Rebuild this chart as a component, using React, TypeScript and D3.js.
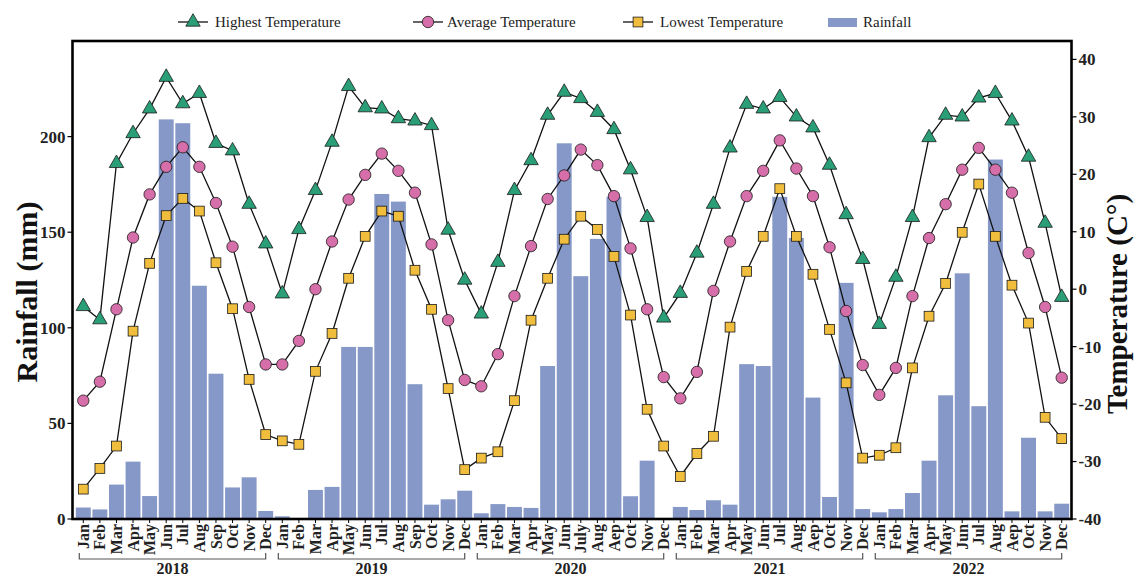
import React from "react";
import * as d3 from "d3";

const years = ["2018", "2019", "2020", "2021", "2022"];
const monthLabels2018 = ["Jan", "Feb", "Mar", "Apr", "May", "Jun", "Jul", "Aug", "Sep", "Oct", "Nov", "Dec"];
const monthLabels2019 = ["Jan", "Feb", "Mar", "Apr", "May", "Jun", "Jul", "Aug", "Sep", "Oct", "Nov", "Dec"];
const monthLabels2020 = ["Jan", "Feb", "Mar", "Apr", "May", "Jun", "July", "Aug", "Aep", "Oct", "Nov", "Dec"];
const monthLabels2021 = ["Jan", "Feb", "Mar", "Apr", "May", "Jun", "Jul", "Aug", "Aep", "Oct", "Nov", "Dec"];
const monthLabels2022 = ["Jan", "Feb", "Mar", "Apr", "May", "Jun", "Jul", "Aug", "Aep", "Oct", "Nov", "Dec"];
const monthLabels = [...monthLabels2018, ...monthLabels2019, ...monthLabels2020, ...monthLabels2021, ...monthLabels2022];

// Rainfall (mm)
const rainfall = [
  6, 5, 18, 30, 12, 209, 207, 122, 76, 16.5, 21.8, 4.2,
  1.4, 0, 15.2, 16.8, 90, 90, 170, 166, 70.5, 7.5, 10.3, 14.8,
  3, 7.8, 6.3, 5.8, 80, 196.5, 127, 146.5, 168.5, 11.9, 30.5, 0,
  6.3, 4.7, 9.8, 7.5, 81, 80, 168.5, 147, 63.5, 11.5, 123.5, 5.2,
  3.5, 5.2, 13.6, 30.5, 64.7, 128.5, 59, 188, 4, 42.5, 4, 8,
];

// Temperatures (°C)
const highTemp = [
  -3.0, -5.3, 21.9, 27.1, 31.4, 36.9, 32.3, 34.1, 25.4, 24.1, 14.8, 7.9,
  -0.8, 10.4, 17.2, 25.6, 35.3, 31.6, 31.4, 29.7, 29.3, 28.5, 10.3, 1.6,
  -4.3, 4.7, 17.2, 22.4, 30.3, 34.3, 33.2, 30.8, 27.8, 20.8, 12.5, -5.0,
  -0.7, 6.3, 14.8, 24.6, 32.2, 31.4, 33.4, 30.0, 28.1, 21.6, 13.0, 5.2,
  -6.1, 2.1, 12.5, 26.4, 30.3, 30.0, 33.3, 34.1, 29.3, 23.0, 11.5, -1.4,
];
const avgTemp = [
  -19.4, -16.1, -3.5, 9.0, 16.5, 21.3, 24.7, 21.3, 15.0, 7.4, -3.1, -13.1,
  -13.1, -9.0, 0.0, 8.3, 15.6, 19.9, 23.6, 20.6, 16.8, 7.8, -5.4, -15.8,
  -16.9, -11.3, -1.2, 7.5, 15.7, 19.8, 24.3, 21.6, 16.2, 7.1, -3.5, -15.3,
  -19.0, -14.4, -0.3, 8.3, 16.2, 20.6, 25.9, 21.0, 16.2, 7.3, -3.8, -13.2,
  -18.4, -13.7, -1.2, 8.9, 14.8, 20.8, 24.6, 20.8, 16.8, 6.3, -3.1, -15.4,
];
const lowTemp = [
  -34.8, -31.2, -27.3, -7.3, 4.5, 12.8, 15.8, 13.6, 4.6, -3.4, -15.7, -25.3,
  -26.4, -27.0, -14.3, -7.7, 1.9, 9.2, 13.6, 12.7, 3.3, -3.5, -17.3, -31.4,
  -29.4, -28.3, -19.4, -5.4, 1.9, 8.7, 12.7, 10.4, 5.7, -4.5, -20.9, -27.3,
  -32.6, -28.6, -25.6, -6.6, 3.1, 9.2, 17.5, 9.2, 2.6, -7.0, -16.3, -29.4,
  -28.9, -27.6, -13.7, -4.7, 1.0, 9.9, 18.3, 9.2, 0.7, -5.9, -22.3, -26.0,
];

const rainTicks = [0, 50, 100, 150, 200];
const tempTicks = [-40, -30, -20, -10, 0, 10, 20, 30, 40];

const W = 1134;
const H = 578;
const LEFT = 72.5;
const RIGHT = 1071.5;
const TOP = 41;
const BOTTOM = 519;

const FONT = "'Liberation Serif', 'Times New Roman', serif";
const BAR = "#8598c7";
const GREEN = "#2a9e76";
const PINK = "#d66eaa";
const GOLD = "#f0be3c";

export default function App() {
  const idx = d3.range(rainfall.length);
  const x = d3.scaleBand<number>().domain(idx).range([75, 1070]).paddingInner(0.1).paddingOuter(0.05);
  const cx = (i: number) => (x(i) as number) + x.bandwidth() / 2;
  const yL = d3.scaleLinear().domain([0, 250]).range([BOTTOM, TOP]);
  const yR = d3.scaleLinear().domain([-40, 43.2]).range([BOTTOM, TOP]);

  const line = d3.line<number>().x((_, i) => cx(i)).y((d) => yR(d));
  const tri = d3.symbol(d3.symbolTriangle, 90)();
  const sq = 9.8;

  const series = [
    { data: highTemp, kind: "tri", fill: GREEN },
    { data: avgTemp, kind: "circle", fill: PINK },
    { data: lowTemp, kind: "square", fill: GOLD },
  ];

  const marker = (kind: string, fill: string, px: number, py: number, key: any) => {
    if (kind === "tri")
      return <path key={key} d={tri as string} transform={`translate(${px},${py})`} fill={fill} stroke="#1a1a1a" strokeWidth={0.8} />;
    if (kind === "circle")
      return <circle key={key} cx={px} cy={py} r={5.7} fill={fill} stroke="#1a1a1a" strokeWidth={0.8} />;
    return <rect key={key} x={px - sq / 2} y={py - sq / 2} width={sq} height={sq} fill={fill} stroke="#1a1a1a" strokeWidth={0.8} />;
  };

  const legendY = 22;

  return (
    <svg width={W} height={H} style={{ position: "absolute", left: 0, top: 0, background: "#fff" }} fontFamily={FONT}>
      {/* bars */}
      {rainfall.map((v, i) => (
        <rect key={"b" + i} x={x(i)} y={yL(v)} width={x.bandwidth()} height={BOTTOM - yL(v)} fill={BAR} />
      ))}
      {/* lines */}
      {series.map((s, k) => (
        <path key={"l" + k} d={line(s.data) as string} fill="none" stroke="#111" strokeWidth={1.3} />
      ))}
      {series.map((s, k) => s.data.map((v, i) => marker(s.kind, s.fill, cx(i), yR(v), `m${k}-${i}`)))}

      {/* frame */}
      <rect x={LEFT} y={TOP} width={RIGHT - LEFT} height={BOTTOM - TOP} fill="none" stroke="#000" strokeWidth={2.6} />

      {/* left axis */}
      {rainTicks.map((t) => (
        <g key={"lt" + t}>
          <line x1={LEFT - 5} x2={LEFT} y1={yL(t)} y2={yL(t)} stroke="#000" strokeWidth={1.2} />
          <text x={LEFT - 7} y={yL(t)} dy="0.35em" textAnchor="end" fontSize={17} fontWeight="bold" fill="#222">{t}</text>
        </g>
      ))}
      {/* right axis */}
      {tempTicks.map((t) => (
        <g key={"rt" + t}>
          <line x1={RIGHT} x2={RIGHT + 5} y1={yR(t)} y2={yR(t)} stroke="#000" strokeWidth={1.2} />
          <text x={RIGHT + 7} y={yR(t)} dy="0.35em" textAnchor="start" fontSize={17} fontWeight="bold" fill="#222">{t}</text>
        </g>
      ))}
      {/* bottom ticks and month labels */}
      {idx.map((i) => (
        <g key={"mt" + i}>
          <line x1={cx(i)} x2={cx(i)} y1={BOTTOM} y2={BOTTOM + 4} stroke="#000" strokeWidth={1} />
          <text transform={`translate(${cx(i)},${BOTTOM + 5}) rotate(-90)`} dy="0.35em" textAnchor="end" fontSize={16} fontWeight="bold" fill="#222">
            {monthLabels[i]}
          </text>
        </g>
      ))}
      {/* year brackets */}
      {years.map((yr, k) => {
        const x0 = cx(k * 12) - 4;
        const x1 = cx(k * 12 + 11);
        return (
          <g key={"y" + yr}>
            <path d={`M${x0},553V559H${x1}V553`} fill="none" stroke="#555" strokeWidth={1.2} />
            <text x={(x0 + x1) / 2} y={574} textAnchor="middle" fontSize={16} fontWeight="bold" fill="#222">{yr}</text>
          </g>
        );
      })}

      {/* axis titles */}
      <text transform={`translate(37,292) rotate(-90)`} textAnchor="middle" fontSize={30} fontWeight="bold" fill="#111">Rainfall (mm)</text>
      <text transform={`translate(1127,304) rotate(-90)`} textAnchor="middle" fontSize={29} fontWeight="bold" fill="#111">Temperature (C°)</text>

      {/* legend */}
      <g>
        <line x1={178} x2={208} y1={legendY} y2={legendY} stroke="#111" strokeWidth={1.3} />
        {marker("tri", GREEN, 193, legendY, "lg1")}
        <text x={215} y={legendY} dy="0.33em" fontSize={15} fill="#222">Highest Temperature</text>
        <line x1={413} x2={443} y1={legendY} y2={legendY} stroke="#111" strokeWidth={1.3} />
        {marker("circle", PINK, 428, legendY, "lg2")}
        <text x={447} y={legendY} dy="0.33em" fontSize={15} fill="#222">Average Temperature</text>
        <line x1={623} x2={653} y1={legendY} y2={legendY} stroke="#111" strokeWidth={1.3} />
        {marker("square", GOLD, 638, legendY, "lg3")}
        <text x={660} y={legendY} dy="0.33em" fontSize={15} fill="#222">Lowest Temperature</text>
        <rect x={828} y={18} width={29} height={9} fill={BAR} />
        <text x={863} y={legendY} dy="0.33em" fontSize={15} fill="#222">Rainfall</text>
      </g>
    </svg>
  );
}
